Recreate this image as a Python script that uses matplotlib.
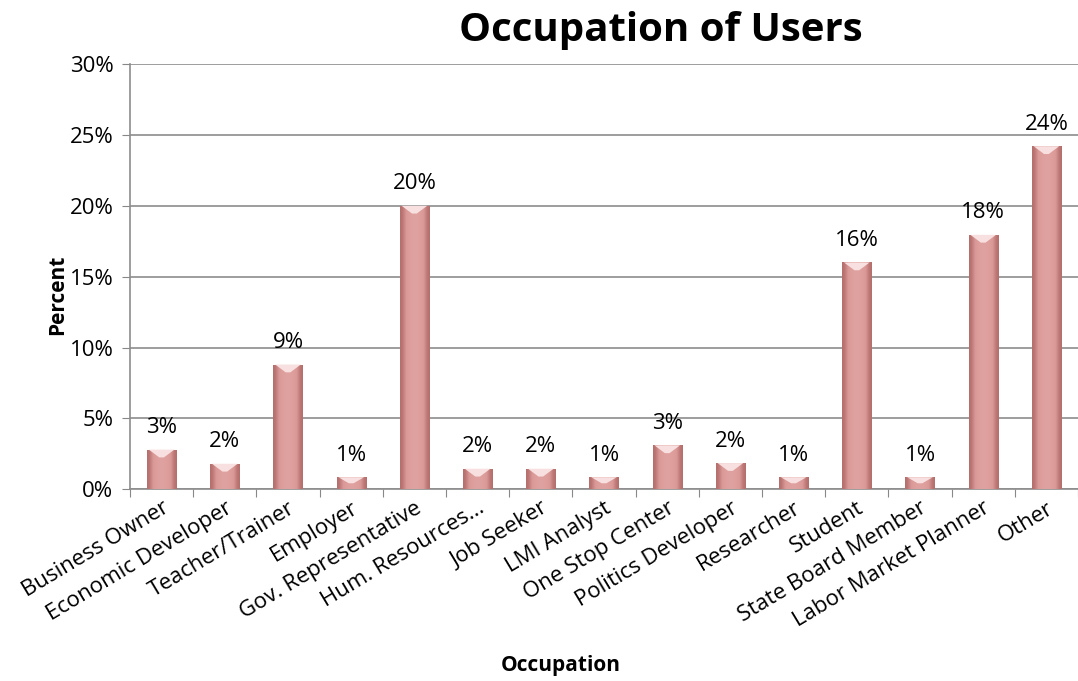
import numpy as np
import matplotlib.pyplot as plt
from matplotlib.patches import Polygon
from matplotlib.colors import LinearSegmentedColormap
from matplotlib.ticker import PercentFormatter

plt.rcParams['font.family'] = ['Open Sans', 'DejaVu Sans']

occupations = ['Business Owner', 'Economic Developer', 'Teacher/Trainer', 'Employer',
               'Gov. Representative', 'Hum. Resources\u2026', 'Job Seeker', 'LMI Analyst',
               'One Stop Center', 'Politics Developer', 'Researcher', 'Student',
               'State Board Member', 'Labor Market Planner', 'Other']
percents = [2.8, 1.8, 8.8, 0.85, 20.0, 1.45, 1.45, 0.85, 3.1, 1.85, 0.85, 16.0, 0.85, 17.95, 24.2]
labels = ['3%', '2%', '9%', '1%', '20%', '2%', '2%', '1%', '3%', '2%', '1%', '16%', '1%', '18%', '24%']

fig = plt.figure(figsize=(10.78, 6.81), dpi=100)
ax = fig.add_axes([0.1206, 0.2815, 0.8794, 0.6245])

x = np.arange(len(occupations))
w = 0.46
bars = ax.bar(x, percents, width=w, color='#d99594', zorder=3)

# cylinder-ish shading across each bar
grad = np.array([[0.0, 0.55, 0.85, 1.0, 0.85, 0.55, 0.0]])
cmap = LinearSegmentedColormap.from_list('pk', ['#b46e6c', '#d99896', '#e0a3a1'])
for b, v in zip(bars, percents):
    x0 = b.get_x()
    im = ax.imshow(grad, extent=(x0, x0 + w, 0, v), cmap=cmap, aspect='auto',
                   interpolation='bicubic', zorder=3.5)
    im.set_clip_path(b)
    # light V-shaped bevel at the top
    d = min(0.55, v * 0.5)
    ax.add_patch(Polygon([(x0 + w * 0.06, v), (x0 + w * 0.94, v), (x0 + w * 0.58, v - d), (x0 + w * 0.42, v - d)],
                         closed=True, facecolor='#f7e0df', edgecolor='none', zorder=4))

for xi, v, lab in zip(x, percents, labels):
    ax.text(xi, v + 0.8, lab, ha='center', va='bottom', fontsize=16, color='black', clip_on=False)

ax.set_xlim(-0.5, len(occupations) - 0.5)
ax.set_ylim(0, 30)
ax.set_yticks(np.arange(0, 31, 5))
ax.yaxis.set_major_formatter(PercentFormatter(decimals=0))
ax.set_xticks(np.arange(-0.5, len(occupations), 1.0))
ax.set_xticklabels([])
ax.set_xticks(x, minor=True)
ax.set_xticklabels(occupations, minor=True, rotation=31, ha='right', rotation_mode='anchor', fontsize=16)
ax.tick_params(axis='x', which='minor', length=0, pad=6)
ax.tick_params(axis='x', which='major', length=6, color='#888888', direction='out')
ax.tick_params(axis='y', length=6, color='#888888', labelsize=16, pad=6)

ax.grid(axis='y', color='#8c8c8c', linewidth=1.2, zorder=0)
for s in ['top', 'right']:
    ax.spines[s].set_visible(False)
for s in ['left', 'bottom']:
    ax.spines[s].set_color('#8c8c8c')
    ax.spines[s].set_linewidth(1.2)

fig.text(0.613, 0.955, 'Occupation of Users', ha='center', va='center', fontsize=29, fontweight='bold')
fig.text(0.053, 0.567, 'Percent', ha='center', va='center', rotation=90, fontsize=15, fontweight='bold')
fig.text(0.52, 0.023, 'Occupation', ha='center', va='center', fontsize=15, fontweight='bold')

fig.savefig('out.png', dpi=100)
